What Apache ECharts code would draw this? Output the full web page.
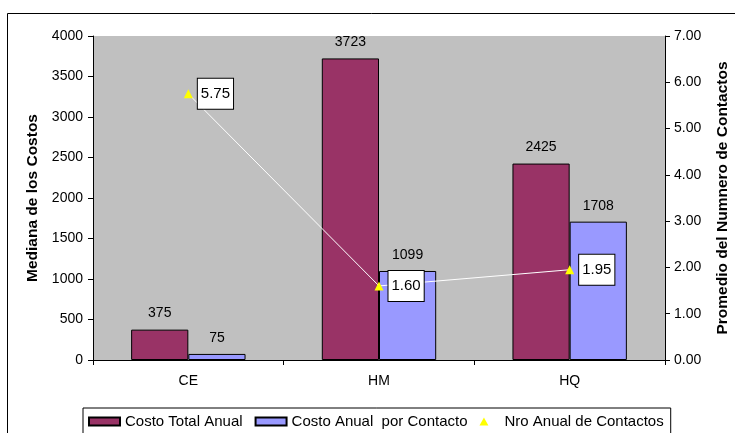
<!DOCTYPE html>
<html>
<head>
<meta charset="utf-8">
<script src="https://cdn.jsdelivr.net/npm/echarts@6/dist/echarts.min.js"></script>
<style>
  html, body { margin: 0; padding: 0; background: #fff; }
  #chart { width: 735px; height: 433px; }
</style>
</head>
<body>
<div id="chart"></div>
<script>
const categories = ['CE', 'HM', 'HQ'];
const costoTotal = [375, 3723, 2425];
const costoContacto = [75, 1099, 1708];
const nroContactos = [5.75, 1.60, 1.95];

const chart = echarts.init(document.getElementById('chart'));
const font = 'Liberation Sans, Arial, sans-serif';

chart.setOption({
  animation: false,
  textStyle: { fontFamily: font, color: '#000' },
  graphic: [{
    type: 'rect',
    shape: { x: 7.5, y: 13.5, width: 800, height: 440 },
    style: { fill: 'none', stroke: '#000', lineWidth: 1 },
    z: -1
  }],
  grid: {
    left: 93, right: 70, top: 36, bottom: 73,
    outerBoundsMode: 'none',
    containLabel: false,
    show: true, backgroundColor: '#C0C0C0', borderWidth: 0
  },
  legend: {
    top: 408,
    left: 83,
    padding: [6, 7, 6, 5],
    borderColor: '#000',
    borderWidth: 1,
    itemGap: 12,
    itemWidth: 31,
    itemHeight: 8,
    textStyle: { fontSize: 15, fontFamily: font, color: '#000' },
    data: [
      { name: 'Costo Total Anual', icon: 'rect' },
      { name: 'Costo Anual  por Contacto', icon: 'rect' },
      { name: 'Nro Anual de Contactos', icon: 'path://M5,0L10,9L0,9Z', itemStyle: { color: '#FFFF00', borderWidth: 0 } }
    ]
  },
  xAxis: {
    type: 'category',
    data: categories,
    axisLine: { lineStyle: { color: '#000' } },
    axisTick: { show: true, length: 5, lineStyle: { color: '#000' } },
    axisLabel: { fontSize: 14, color: '#000', margin: 14 },
    splitLine: { show: false }
  },
  yAxis: [{
    type: 'value',
    min: 0, max: 4000, interval: 500,
    name: 'Mediana de los Costos',
    nameLocation: 'middle',
    nameGap: 49,
    nameTextStyle: { fontWeight: 'bold', fontSize: 15.5, color: '#000' },
    axisLine: { show: true, lineStyle: { color: '#000' } },
    axisTick: { show: true, length: 5, lineStyle: { color: '#000' } },
    axisLabel: { fontSize: 14, color: '#000', margin: 10, formatter: v => String(v) },
    splitLine: { show: false }
  }, {
    type: 'value',
    min: 0, max: 7, interval: 1,
    name: 'Promedio del Numnero de Contactos',
    nameLocation: 'middle',
    nameGap: 50,
    nameTextStyle: { fontWeight: 'bold', fontSize: 15.5, color: '#000' },
    axisLine: { show: true, lineStyle: { color: '#000' } },
    axisTick: { show: true, length: 5, lineStyle: { color: '#000' } },
    axisLabel: { fontSize: 14, color: '#000', margin: 9, formatter: v => v.toFixed(2) },
    splitLine: { show: false }
  }],
  series: [{
    name: 'Costo Total Anual',
    type: 'bar',
    data: costoTotal,
    barCategoryGap: '40%',
    barGap: '0%',
    itemStyle: { color: '#993366', borderColor: '#000', borderWidth: 1 },
    label: { show: true, position: 'top', distance: 9, fontSize: 14, color: '#000' }
  }, {
    name: 'Costo Anual  por Contacto',
    type: 'bar',
    data: costoContacto,
    itemStyle: { color: '#9999FF', borderColor: '#000', borderWidth: 1 },
    label: { show: true, position: 'top', distance: 9, fontSize: 14, color: '#000' }
  }, {
    name: 'Nro Anual de Contactos',
    type: 'line',
    yAxisIndex: 1,
    data: nroContactos,
    symbol: 'triangle',
    symbolSize: 9,
    itemStyle: { color: '#FFFF00' },
    lineStyle: { color: '#FFFFFF', width: 1 },
    label: {
      show: true, position: 'right', distance: 5,
      formatter: p => p.value.toFixed(2),
      fontSize: 15, color: '#000', lineHeight: 15,
      backgroundColor: '#fff', borderColor: '#000', borderWidth: 1,
      padding: [8, 3, 7, 3]
    },
    z: 5
  }]
});
</script>
</body>
</html>
